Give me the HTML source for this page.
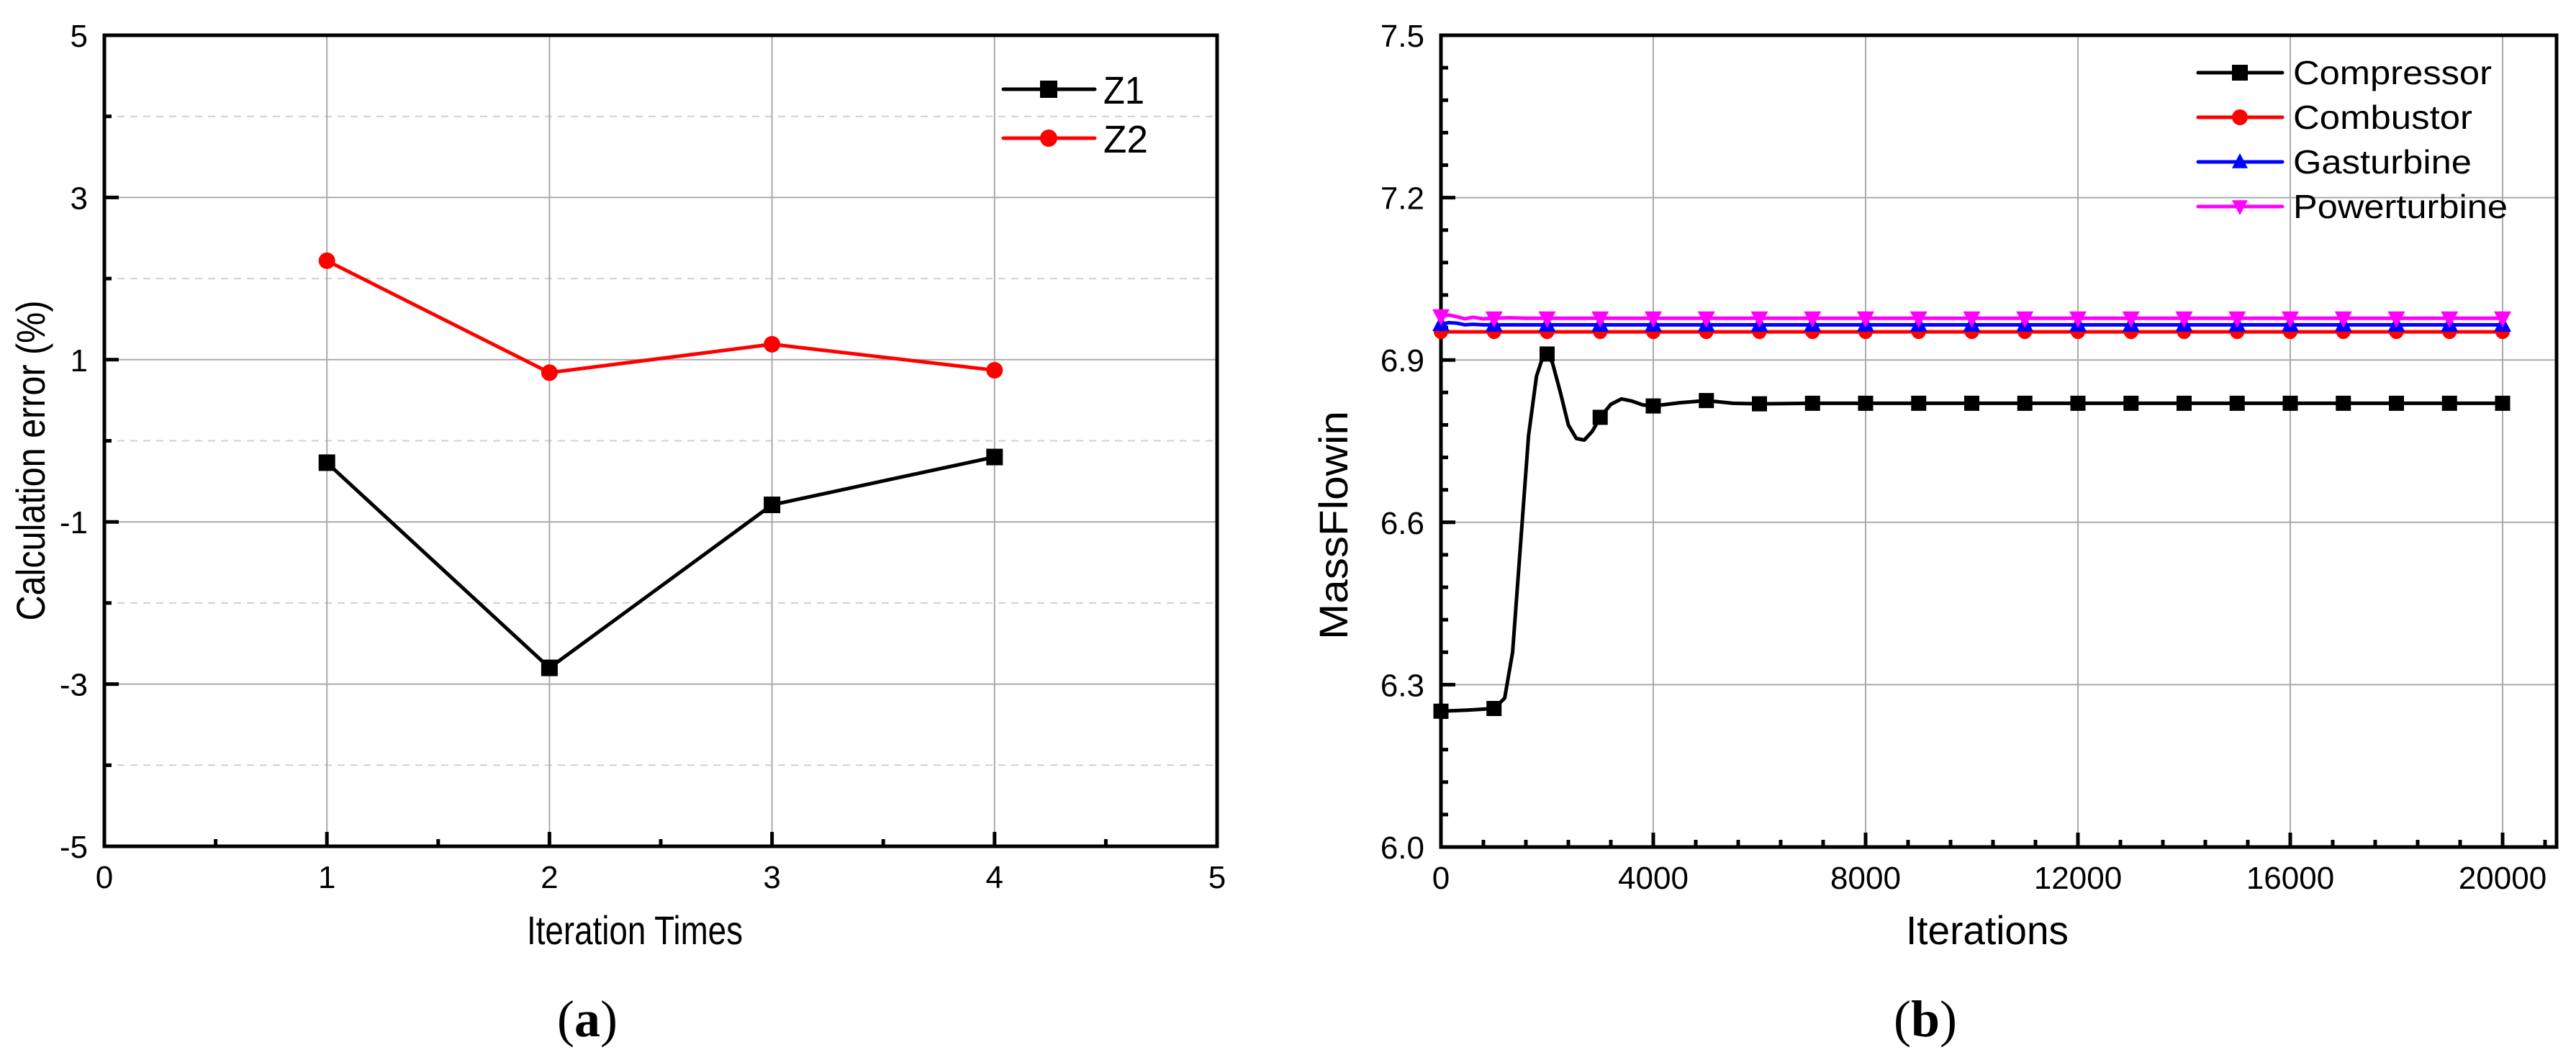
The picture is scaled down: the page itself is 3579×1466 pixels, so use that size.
<!DOCTYPE html>
<html><head><meta charset="utf-8"><style>
html,body{margin:0;padding:0;background:#fff;}
svg{display:block;}
text{font-family:"Liberation Sans",Arial,sans-serif;fill:#000;}
</style></head><body>
<svg id="fig" width="3579" height="1466" viewBox="0 0 3579 1466" xmlns="http://www.w3.org/2000/svg"></svg>
<script>
// ---- Chart (a) data ----
const aCategories = [1, 2, 3, 4];
const aZ1 = [-0.27, -2.80, -0.79, -0.20];
const aZ2 = [2.22, 0.84, 1.19, 0.87];
const aXTicks = [0, 1, 2, 3, 4, 5];
const aYTicks = [-5, -3, -1, 1, 3, 5];
// ---- Chart (b) data ----
const bCompX = [0,500,1000,1200,1350,1500,1650,1800,1900,2000,2100,2250,2400,2550,2700,2850,3000,3200,3400,3600,3800,4000,4500,5000,5500,6000,7000,8000,9000,10000,11000,12000,13000,14000,15000,16000,17000,18000,19000,20000];
const bCompY = [6.251,6.253,6.256,6.275,6.36,6.56,6.76,6.87,6.90,6.911,6.895,6.84,6.78,6.755,6.752,6.768,6.794,6.818,6.828,6.824,6.817,6.815,6.821,6.825,6.820,6.819,6.820,6.820,6.820,6.820,6.820,6.820,6.820,6.820,6.820,6.820,6.820,6.820,6.820,6.820];
const bCombX = [0,20000];
const bCombY = [6.952,6.952];
const bGasX = [0,150,300,450,600,800,1000,20000];
const bGasY = [6.966,6.969,6.968,6.965,6.966,6.965,6.965,6.965];
const bPowX = [0,150,300,450,600,800,1000,1300,1600,20000];
const bPowY = [6.981,6.983,6.980,6.976,6.979,6.976,6.977,6.978,6.977,6.977];
const bMarkerX = [0,1000,2000,3000,4000,5000,6000,7000,8000,9000,10000,11000,12000,13000,14000,15000,16000,17000,18000,19000,20000];
const bXTicks = [0, 4000, 8000, 12000, 16000, 20000];
const bYTicks = [6.0, 6.3, 6.6, 6.9, 7.2, 7.5];

const NS = "http://www.w3.org/2000/svg";
const svg = document.getElementById('fig');
function mk(tag, attrs, parent, txt){
  const e = document.createElementNS(NS, tag);
  for (const k in attrs) e.setAttribute(k, attrs[k]);
  if (txt !== undefined) e.textContent = txt;
  (parent || svg).appendChild(e);
  return e;
}
function interp(xs, ys, x){
  for (let i=0;i<xs.length-1;i++){ if (x>=xs[i] && x<=xs[i+1]) { const t=(x-xs[i])/(xs[i+1]-xs[i]); return ys[i]+t*(ys[i+1]-ys[i]); } }
  return ys[ys.length-1];
}
function marker(g, type, cx, cy, color, s){
  let e;
  if (type==='sq') e = mk('rect',{x:cx-s/2,y:cy-s/2,width:s,height:s,fill:color},g);
  else if (type==='ci') e = mk('circle',{cx:cx,cy:cy,r:s/2,fill:color},g);
  else if (type==='up') e = mk('polygon',{points:`${cx-s/2},${cy+s*0.4} ${cx+s/2},${cy+s*0.4} ${cx},${cy-s*0.55}`,fill:color},g);
  else e = mk('polygon',{points:`${cx-s/2},${cy-s*0.4} ${cx+s/2},${cy-s*0.4} ${cx},${cy+s*0.55}`,fill:color},g);
  
  
  return e;
}

// ================= Chart (a) =================
(function(){
  const L=145,R=1691,T=49,B=1176;
  const xs = v => L + (v-0)/(5-0)*(R-L);
  const ys = v => B - (v+5)/10*(B-T);
  const g = mk('g',{});
  
  
  // grid
  for (let v=-4; v<=4; v+=2){
    const l = mk('line',{x1:L,x2:R,y1:ys(v),y2:ys(v),stroke:'#d0d0d0','stroke-width':2,'stroke-dasharray':'10,8'},g);
     
  }
  for (const v of aYTicks){ if (v===-5||v===5) continue;
    const l = mk('line',{x1:L,x2:R,y1:ys(v),y2:ys(v),stroke:'#aaaaaa','stroke-width':2},g);
     
  }
  for (const v of aXTicks){ if (v===0||v===5) continue;
    const l = mk('line',{x1:xs(v),x2:xs(v),y1:T,y2:B,stroke:'#aaaaaa','stroke-width':2},g);
     
  }
  // ticks
  for (let v=0; v<=5; v+=0.5){
    const len = (v%1===0)?20:10;
    const t = mk('line',{x1:xs(v),x2:xs(v),y1:B,y2:B-len,stroke:'#000','stroke-width':5},g);
     
  }
  for (let v=-5; v<=5; v+=1){
    const len = (Math.abs(v)%2===1)?20:10;
    const t = mk('line',{x1:L,x2:L+len,y1:ys(v),y2:ys(v),stroke:'#000','stroke-width':5},g);
     
  }
  for (const v of aXTicks){
    const t = mk('text',{x:xs(v),y:B+58,'font-size':44,'text-anchor':'middle'},g,String(v));
     
  }
  for (const v of aYTicks){
    const t = mk('text',{x:122,y:ys(v)+16,'font-size':44,'text-anchor':'end'},g,String(v));
     
  }
  // frame
  const f = mk('rect',{x:L,y:T,width:R-L,height:B-T,fill:'none',stroke:'#000','stroke-width':5},g);
   
  // series
  const series = [[aZ1,'#000','sq','z1-line'],[aZ2,'#ff0000','ci','z2-line']];
  for (const [vals,col,m,name] of series){
    const p = mk('polyline',{points:aCategories.map((c,i)=>xs(c)+','+ys(vals[i])).join(' '),fill:'none',stroke:col,'stroke-width':5,'stroke-linejoin':'round'},g);
     
    aCategories.forEach((c,i)=>marker(g,m,xs(c),ys(vals[i]),col,23));
  }
  // legend
  const lg = mk('g',{},g);
   
  [['Z1','#000','sq',124],['Z2','#ff0000','ci',192]].forEach(([lab,col,m,y])=>{
    const e = mk('g',{},lg);
     
    mk('line',{x1:1394,x2:1521,y1:y,y2:y,stroke:col,'stroke-width':5,'stroke-linecap':'round'},e);
    marker(e,m,1457,y,col,24);
    mk('text',{x:1533,y:y+20,'font-size':54,textLength:lab==='Z1'?57:62,lengthAdjust:'spacingAndGlyphs'},e,lab);
  });
  const xt = mk('text',{x:882,y:1312,'font-size':56,'text-anchor':'middle',textLength:300,lengthAdjust:'spacingAndGlyphs'},g,'Iteration Times');
   
  const yt = mk('text',{x:0,y:0,'font-size':56,'text-anchor':'middle',transform:'translate(62,640) rotate(-90)',textLength:445,lengthAdjust:'spacingAndGlyphs'},g,'Calculation error (%)');
   
  const cap = mk('text',{x:816,y:1440,'font-size':72,'text-anchor':'middle','style':'font-family:"Liberation Serif",serif'},g);
   
  mk('tspan',{},cap,'(');
  mk('tspan',{'font-weight':'bold'},cap,'a');
  mk('tspan',{},cap,')');
})();

// ================= Chart (b) =================
(function(){
  const L=2002,R=3552,T=49,B=1177;
  const xs = v => L + v/20000*(3477-L);
  const ys = v => B - (v-6)/1.5*(B-T);
  const g = mk('g',{});
  
  
  for (const v of bYTicks){ if (v===6.0||v===7.5) continue;
    const l = mk('line',{x1:L,x2:R,y1:ys(v),y2:ys(v),stroke:'#aaaaaa','stroke-width':2},g);
     
  }
  for (const v of bXTicks){ if (v===0) continue;
    const l = mk('line',{x1:xs(v),x2:xs(v),y1:T,y2:B,stroke:'#aaaaaa','stroke-width':2},g);
     
  }
  for (let i=0; i<=26; i++){
    const v=i*800; if (xs(v)>R) break;
    const len = (i%5===0)?20:10;
    const t = mk('line',{x1:xs(v),x2:xs(v),y1:B,y2:B-len,stroke:'#000','stroke-width':5},g);
     
  }
  for (let i=0; i<=25; i++){
    const v=6+i*0.06;
    const len = (i%5===0)?20:10;
    const t = mk('line',{x1:L,x2:L+len,y1:ys(v),y2:ys(v),stroke:'#000','stroke-width':5},g);
     
  }
  for (const v of bXTicks){
    const t = mk('text',{x:xs(v),y:B+58,'font-size':44,'text-anchor':'middle'},g,String(v));
     
  }
  for (const v of bYTicks){
    const t = mk('text',{x:1979,y:ys(v)+16,'font-size':44,'text-anchor':'end'},g,v.toFixed(1));
     
  }
  const f = mk('rect',{x:L,y:T,width:R-L,height:B-T,fill:'none',stroke:'#000','stroke-width':5},g);
   
  const series = [
    [bCombX,bCombY,'#ff0000','ci','combustor-line'],
    [bGasX,bGasY,'#0000ff','up','gasturbine-line'],
    [bPowX,bPowY,'#ff00ff','dn','powerturbine-line'],
    [bCompX,bCompY,'#000','sq','compressor-line']
  ];
  for (const [X,Y,col,m,name] of series){
    const p = mk('polyline',{points:X.map((x,i)=>xs(x)+','+ys(Y[i])).join(' '),fill:'none',stroke:col,'stroke-width':5,'stroke-linejoin':'round'},g);
     
    bMarkerX.forEach(x=>marker(g,m,xs(x),ys(interp(X,Y,x)),col,m==='sq'?21:(m==='ci'?20:24)));
  }
  const lg = mk('g',{},g);
   
  [['Compressor','#000','sq',101,276],['Combustor','#ff0000','ci',163,249],['Gasturbine','#0000ff','up',225,248],['Powerturbine','#ff00ff','dn',287,298]].forEach(([lab,col,m,y,w])=>{
    const e = mk('g',{},lg);
     
    mk('line',{x1:3054,x2:3171,y1:y,y2:y,stroke:col,'stroke-width':5,'stroke-linecap':'round'},e);
    marker(e,m,3112,y,col,22);
    mk('text',{x:3186,y:y+16,'font-size':46,textLength:w,lengthAdjust:'spacingAndGlyphs'},e,lab);
  });
  const xt = mk('text',{x:2761,y:1312,'font-size':56,'text-anchor':'middle',textLength:226,lengthAdjust:'spacingAndGlyphs'},g,'Iterations');
   
  const yt = mk('text',{x:0,y:0,'font-size':56,'text-anchor':'middle',transform:'translate(1872,730) rotate(-90)',textLength:318,lengthAdjust:'spacingAndGlyphs'},g,'MassFlowin');
   
  const cap = mk('text',{x:2675,y:1440,'font-size':72,'text-anchor':'middle','style':'font-family:"Liberation Serif",serif'},g);
   
  mk('tspan',{},cap,'(');
  mk('tspan',{'font-weight':'bold'},cap,'b');
  mk('tspan',{},cap,')');
})();
</script>
</body></html>
